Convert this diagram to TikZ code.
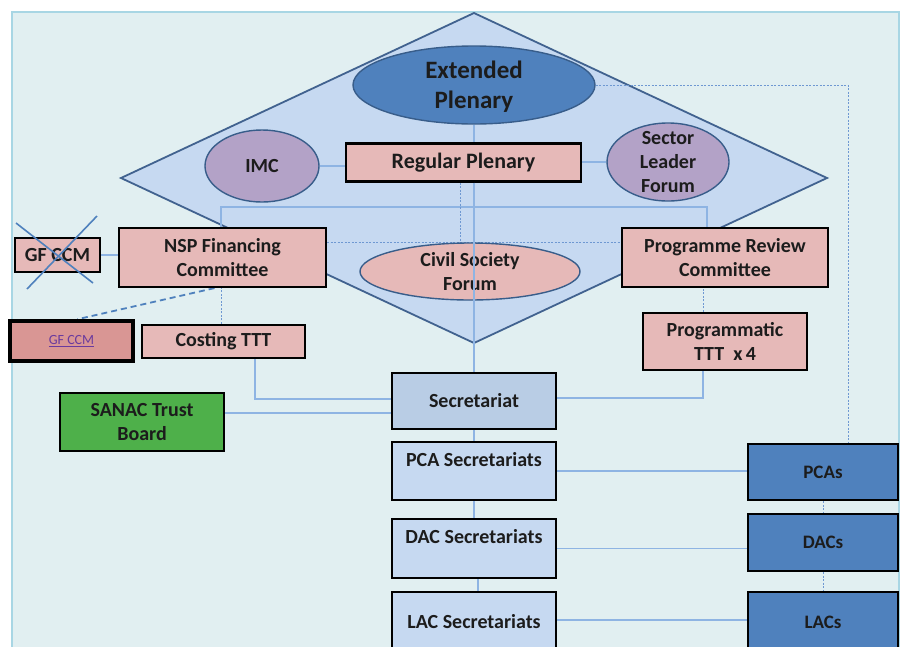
\documentclass[tikz,border=0pt]{standalone}
\usepackage{fontspec}
\setmainfont{Carlito}
\usetikzlibrary{shapes.geometric,calc}
\pgfdeclarelayer{back}
\pgfdeclarelayer{lines}
\pgfsetlayers{back,lines,main}
\definecolor{panel}{HTML}{E1EFF1}
\definecolor{panelb}{HTML}{A8D6E4}
\definecolor{diamf}{HTML}{C6D9F1}
\definecolor{diamb}{HTML}{41628F}
\definecolor{ellb}{HTML}{385D8A}
\definecolor{bluef}{HTML}{4F81BD}
\definecolor{purf}{HTML}{B3A2C7}
\definecolor{pinkf}{HTML}{E6B9B8}
\definecolor{pinkd}{HTML}{D99694}
\definecolor{secf}{HTML}{B9CDE5}
\definecolor{secl}{HTML}{C6D9F1}
\definecolor{greenf}{HTML}{4EB04A}
\definecolor{connc}{HTML}{8EB4E3}
\definecolor{dashc}{HTML}{6E98D2}
\definecolor{txt}{HTML}{1C1C1C}
\definecolor{linkc}{HTML}{6A3A9E}
\begin{document}
\begin{tikzpicture}[x=1pt,y=-1pt,
  font=\fontsize{20}{24}\selectfont\bfseries,
  bx/.style={draw=black, line width=2.2pt, align=center, inner sep=0pt, text=txt},
  pbox/.style={bx, fill=pinkf},
  sbox/.style={bx, fill=secl},
  dbox/.style={bx, fill=bluef},
  ell/.style={ellipse, draw=ellb, line width=1.4pt, inner sep=0pt},
  elltext/.style={align=center, text=txt},
  conn/.style={draw=connc, line width=1.1pt},
  dotc/.style={draw=dashc, line width=0.9pt, dash pattern=on 2pt off 1.5pt},
  crossl/.style={draw=bluef, line width=1.6pt}
]
\useasboundingbox (0,0) rectangle (901,646);
\clip (0,0) rectangle (901,646);
\begin{pgfonlayer}{back}
\fill[white] (0,0) rectangle (901,646);
\fill[panel] (12,12) rectangle (899,660);
\draw[panelb, line width=1.5pt] (12,660) -- (12,12) -- (899,12) -- (899,660);
\draw[fill=diamf, draw=diamb, line width=1.8pt, line join=miter] (474,13) -- (827,178) -- (474,343) -- (121,178) -- cycle;
\end{pgfonlayer}

% nodes
\node[ell, fill=bluef, minimum width=242, minimum height=78,
      label={[elltext, font=\fontsize{25}{30}\selectfont\bfseries, yshift=-2pt]center:Extended\\Plenary}] (ep) at (474,85) {};
\node[ell, fill=purf, minimum width=114, minimum height=72,
      label={[elltext]center:IMC}] (imc) at (262,166) {};
\node[ell, fill=purf, minimum width=122, minimum height=78,
      label={[elltext]center:Sector\\Leader\\Forum}] (slf) at (668,162) {};
\node[pbox, minimum width=235, minimum height=38, font=\fontsize{22}{24}\selectfont\bfseries] (rp) at (463.5,162.5) {Regular Plenary};
\node[pbox, minimum width=207, minimum height=59] (nsp) at (222.5,257.5) {NSP Financing\\Committee};
\node[pbox, minimum width=85, minimum height=34] (gfx) at (57.5,255) {GF CCM};
\node[bx, fill=pinkd, line width=3.6pt, minimum width=123, minimum height=40,
      font=\fontsize{14}{16}\selectfont\mdseries, text=linkc] (gf2) at (71.5,341) {\underline{GF CCM}};
\node[pbox, minimum width=163, minimum height=33] (cost) at (223.5,341.5) {Costing TTT};
\node[ell, fill=pinkf, minimum width=220, minimum height=57,
      label={[elltext]center:Civil Society\\Forum}] (csf) at (470,271.5) {};
\node[pbox, minimum width=206, minimum height=59] (prc) at (725,257.5) {Programme Review\\Committee};
\node[pbox, minimum width=164, minimum height=57] (pttt) at (725,341.5) {Programmatic\\TTT~~x\,4};
\node[bx, fill=secf, minimum width=164, minimum height=56] (sec) at (474,401) {Secretariat};
\node[bx, fill=greenf, minimum width=164, minimum height=58] (sanac) at (142,422) {SANAC Trust\\Board};
\node[sbox, minimum width=164, minimum height=58] (pcasec) at (474,471) {PCA Secretariats\\\mbox{}};
\node[sbox, minimum width=164, minimum height=59] (dacsec) at (474,548.5) {DAC Secretariats\\\mbox{}};
\node[sbox, minimum width=164, minimum height=60] (lacsec) at (474,622) {LAC Secretariats};
\node[dbox, minimum width=150, minimum height=56, font=\fontsize{19}{24}\selectfont\bfseries] (pcas) at (823,472) {PCAs};
\node[dbox, minimum width=150, minimum height=57, font=\fontsize{19}{24}\selectfont\bfseries] (dacs) at (823,542.5) {DACs};
\node[dbox, minimum width=150, minimum height=60, font=\fontsize{19}{24}\selectfont\bfseries] (lacs) at (823,622) {LACs};

% connectors behind the nodes
\begin{pgfonlayer}{lines}
\draw[conn] (ep.south) -- (rp.north -| ep.south);
\draw[conn] (imc.east) -- (imc.east -| rp.west);
\draw[conn] (slf.west) -- (slf.west -| rp.east);
\draw[conn] ([xshift=-1.5pt]nsp.north) |- (474,207) -| ([xshift=-18pt]prc.north);
\draw[dotc] ([xshift=-3.5pt]rp.south) -- ++(0,61);
\draw[dotc] (nsp.east |- csf.north) -- (prc.west |- csf.north);
\draw[dotc] (ep.east) -| (848,0 |- pcas.north);
\draw[conn] (gfx.east) -- (gfx.east -| nsp.west);
\draw[dotc] ([xshift=-2pt]cost.north) -- ([xshift=-2pt]cost.north |- nsp.south);
\draw[draw=bluef, line width=1.8pt, dash pattern=on 6pt off 4pt] ([xshift=-8pt]nsp.south) -- ([xshift=6pt]gf2.north);
\draw[conn] ([xshift=31.5pt]cost.south) |- ([yshift=2pt]sec.west);
\draw[conn] ([yshift=9pt]sanac.east) -- ([yshift=9pt]sanac.east -| sec.west);
\draw[dotc] ([xshift=-22pt]pttt.north) -- ([xshift=-22pt]prc.south);
\draw[conn] ([xshift=-22pt]pttt.south) |- ([yshift=3pt]sec.east);
\draw[conn] (sec.south) -- (pcasec.north);
\draw[conn] (pcasec.south) -- (dacsec.north);
\draw[conn] ([xshift=4pt]dacsec.south) -- ([xshift=4pt]lacsec.north);
\draw[conn] (pcasec.east) -- (pcasec.east -| pcas.west);
\draw[conn] (dacsec.east) -- (dacsec.east -| dacs.west);
\draw[conn] ([yshift=2pt]lacsec.east) -- ([yshift=2pt]lacsec.east -| lacs.west);
\draw[dotc] (pcas.south) -- (dacs.north);
\draw[dotc] (dacs.south) -- (lacs.north);
\end{pgfonlayer}

% on top
\draw[conn] (rp.south -| ep.south) -- (sec.north -| ep.south);
\draw[crossl] ($(gfx.center)+(-41.5,-32)$) -- ($(gfx.center)+(35.5,28)$);
\draw[crossl] ($(gfx.center)+(39.5,-39)$) -- ($(gfx.center)+(-30.5,34)$);
\end{tikzpicture}
\end{document}
